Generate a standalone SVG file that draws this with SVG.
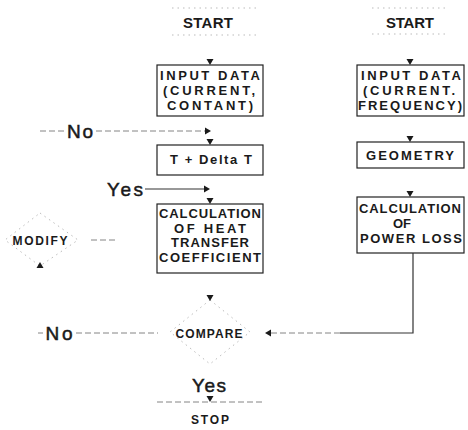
<svg xmlns="http://www.w3.org/2000/svg" width="468" height="430" viewBox="0 0 468 430">
<style>
text{font-family:"Liberation Sans",Arial,sans-serif;fill:#1a1a1a;text-anchor:middle}
.t{font-size:15px;font-weight:bold}
.b{font-size:13px;font-weight:bold}
.lb{font-size:19px;stroke:#1a1a1a;stroke-width:0.5}
.s{font-size:12px;font-weight:bold}
.box{fill:none;stroke:#222;stroke-width:1.2}
.faint{fill:none;stroke:#aaa;stroke-width:0.8;stroke-dasharray:1.5 4}
.dash{fill:none;stroke:#777;stroke-width:0.9;stroke-dasharray:6 3}
.solid{fill:none;stroke:#333;stroke-width:1.2}
.ah{fill:#1a1a1a}
</style>
<defs>
<path id="down" d="M-3.5,-6 L3.5,-6 L0,0 Z"/>
<path id="right" d="M-6,-3.5 L-6,3.5 L0,0 Z"/>
<path id="left" d="M6,-3.5 L6,3.5 L0,0 Z"/>
<path id="up" d="M-3.5,6 L3.5,6 L0,0 Z"/>
</defs>
<g id="start-left">
<line class="faint" x1="172" y1="8" x2="258" y2="8"/>
<text class="t" x="208" y="28" textLength="50" lengthAdjust="spacing">START</text>
<line class="faint" x1="172" y1="35" x2="258" y2="35"/>
</g>
<g id="start-right">
<line class="faint" x1="372" y1="8" x2="446" y2="8"/>
<text class="t" x="410" y="28" textLength="48" lengthAdjust="spacing">START</text>
<line class="faint" x1="372" y1="34" x2="446" y2="34"/>
</g>
<g id="input-left">
<rect class="box" x="157" y="65" width="106" height="51"/>
<text class="b" x="210" y="80" textLength="100" lengthAdjust="spacing">INPUT DATA</text>
<text class="b" x="209" y="95" textLength="92" lengthAdjust="spacing">(CURRENT,</text>
<text class="b" x="210" y="110" textLength="86" lengthAdjust="spacing">CONTANT)</text>
</g>
<g id="delta">
<rect class="box" x="157" y="145" width="106" height="30"/>
<text class="b" x="211" y="164" textLength="82" lengthAdjust="spacing">T + Delta T</text>
</g>
<g id="heat">
<rect class="box" x="157" y="204" width="106" height="69"/>
<text class="b" x="210" y="218" textLength="102" lengthAdjust="spacing">CALCULATION</text>
<text class="b" x="210" y="233" textLength="72" lengthAdjust="spacing">OF HEAT</text>
<text class="b" x="210" y="247" textLength="78" lengthAdjust="spacing">TRANSFER</text>
<text class="b" x="210" y="262" textLength="102" lengthAdjust="spacing">COEFFICIENT</text>
</g>
<g id="input-right">
<rect class="box" x="357" y="65" width="107" height="51"/>
<text class="b" x="411" y="80" textLength="100" lengthAdjust="spacing">INPUT DATA</text>
<text class="b" x="409" y="95" textLength="92" lengthAdjust="spacing">(CURRENT.</text>
<text class="b" x="410" y="110" textLength="104" lengthAdjust="spacing">FREQUENCY)</text>
</g>
<g id="geometry">
<rect class="box" x="357" y="142" width="107" height="26"/>
<text class="b" x="410" y="160" textLength="88" lengthAdjust="spacing">GEOMETRY</text>
</g>
<g id="powerloss">
<rect class="box" x="357" y="197" width="107" height="56"/>
<text class="b" x="410" y="213" textLength="102" lengthAdjust="spacing">CALCULATION</text>
<text class="b" x="402" y="228" textLength="18" lengthAdjust="spacing">OF</text>
<text class="b" x="411" y="243" textLength="102" lengthAdjust="spacing">POWER LOSS</text>
</g>
<g id="modify">
<path class="faint" d="M40,213 L78,240 L40,266 L5,240 Z"/>
<text class="s" x="40" y="245" textLength="55" lengthAdjust="spacing">MODIFY</text>
</g>
<g id="compare">
<path class="faint" d="M210,300 L250,332 L210,364 L170,332 Z"/>
<text class="s" x="209" y="338" textLength="67" lengthAdjust="spacing">COMPARE</text>
</g>
<g id="stop">
<line class="dash" x1="157" y1="402" x2="262" y2="402"/>
<text class="s" x="210" y="424" textLength="38" lengthAdjust="spacing">STOP</text>
</g>
<g id="connectors">
<use href="#down" class="ah" x="210" y="65"/>
<use href="#down" class="ah" x="410" y="65"/>
<use href="#down" class="ah" x="210" y="145"/>
<use href="#down" class="ah" x="410" y="142"/>
<use href="#down" class="ah" x="210" y="204"/>
<use href="#down" class="ah" x="410" y="197"/>
<line class="dash" x1="40" y1="131" x2="64" y2="131"/>
<text class="lb" x="80" y="138" textLength="26" lengthAdjust="spacing">No</text>
<line class="dash" x1="96" y1="131" x2="205" y2="131"/>
<use href="#right" class="ah" x="211" y="131"/>
<text class="lb" x="125" y="196" textLength="36" lengthAdjust="spacing">Yes</text>
<line class="solid" x1="145" y1="189" x2="204" y2="189" stroke-width="0.9"/>
<use href="#right" class="ah" x="210" y="189"/>
<line class="dash" x1="91" y1="240" x2="115" y2="240"/>
<use href="#up" class="ah" x="40" y="262"/>
<polyline class="solid" points="413,253 413,333 340,333"/>
<line class="dash" x1="340" y1="333" x2="271" y2="333"/>
<use href="#left" class="ah" x="265" y="333"/>
<use href="#down" class="ah" x="210" y="301"/>
<line class="dash" x1="38" y1="333" x2="43" y2="333"/>
<text class="lb" x="59" y="340" textLength="27" lengthAdjust="spacing">No</text>
<line class="dash" x1="76" y1="333" x2="158" y2="333"/>
<text class="lb" x="209" y="392" textLength="34" lengthAdjust="spacing">Yes</text>
<use href="#down" class="ah" x="210" y="402"/>
</g>
</svg>
